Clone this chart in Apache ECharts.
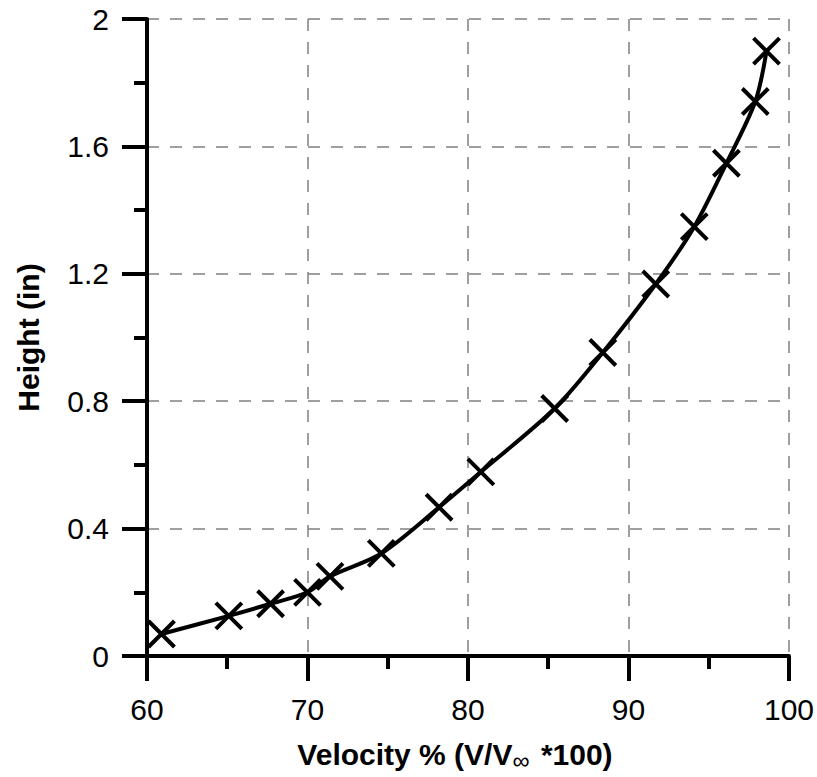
<!DOCTYPE html>
<html>
<head>
<meta charset="utf-8">
<script src="https://cdn.jsdelivr.net/npm/echarts@6/dist/echarts.min.js"></script>
<style>
  html, body { margin: 0; padding: 0; background: #fff; }
  #chart { width: 817px; height: 777px; }
</style>
</head>
<body>
<div id="chart"></div>
<script>
var velocity = [60.9, 65.1, 67.7, 70.0, 71.4, 74.6, 78.2, 80.8, 85.4, 88.4, 91.7, 94.1, 96.1, 97.9, 98.6];
var height = [0.069, 0.126, 0.164, 0.20, 0.25, 0.322, 0.467, 0.578, 0.777, 0.953, 1.168, 1.348, 1.547, 1.741, 1.899];

var xTicks = [60, 70, 80, 90, 100];
var yTicks = [0, 0.4, 0.8, 1.2, 1.6, 2];

var ink = '#000';
var gridGray = '#808080';
var font = '"Liberation Sans", Arial, sans-serif';

var points = velocity.map(function(v, i) { return [v, height[i]]; });

var chart = echarts.init(document.getElementById('chart'), null, { renderer: 'svg' });
chart.setOption({
  animation: false,
  grid: { left: 147, right: 28, top: 19, bottom: 113 },
  xAxis: {
    type: 'value',
    min: xTicks[0],
    max: xTicks[xTicks.length - 1],
    interval: 10,
    name: '{t|Velocity % (V/V}{s|∞}{t| *100)}',
    nameLocation: 'middle',
    nameGap: 80,
    nameTextStyle: {
      padding: [0, 26, 0, 0],
      rich: {
        t: { fontFamily: font, fontWeight: 'bold', fontSize: 30, color: ink },
        s: { fontFamily: font, fontWeight: 'normal', fontSize: 24, color: ink, padding: [12, 3, 0, 0] }
      }
    },
    axisLine: { show: true, onZero: false, lineStyle: { color: ink, width: 4 } },
    axisTick: { show: true, inside: false, length: 25, lineStyle: { color: ink, width: 4 } },
    minorTick: { show: true, splitNumber: 2, length: 13, lineStyle: { color: ink, width: 4 } },
    axisLabel: { color: ink, fontFamily: font, fontSize: 30, margin: 38 },
    splitLine: { show: true, lineStyle: { color: gridGray, width: 1.5, type: [12, 11] } }
  },
  yAxis: {
    type: 'value',
    min: yTicks[0],
    max: yTicks[yTicks.length - 1],
    interval: 0.4,
    name: 'Height (in)',
    nameLocation: 'middle',
    nameRotate: 90,
    nameGap: 104,
    nameTextStyle: { fontFamily: font, fontWeight: 'bold', fontSize: 30, color: ink },
    axisLine: { show: true, onZero: false, lineStyle: { color: ink, width: 4 } },
    axisTick: { show: true, inside: false, length: 25, lineStyle: { color: ink, width: 4 } },
    minorTick: { show: true, splitNumber: 2, length: 13, lineStyle: { color: ink, width: 4 } },
    axisLabel: {
      color: ink, fontFamily: font, fontSize: 30, margin: 38,
      formatter: function(v) { return String(Math.round(v * 10) / 10); }
    },
    splitLine: { show: true, lineStyle: { color: gridGray, width: 1.5, type: [12, 11] } }
  },
  series: [{
    type: 'line',
    data: points,
    smooth: 0.3,
    symbol: 'path://M0,0L26,26M26,0L0,26',
    symbolSize: 26,
    lineStyle: { color: ink, width: 4 },
    itemStyle: { color: 'none', borderColor: ink, borderWidth: 4 },
    emphasis: { disabled: true }
  }]
});
</script>
</body>
</html>
